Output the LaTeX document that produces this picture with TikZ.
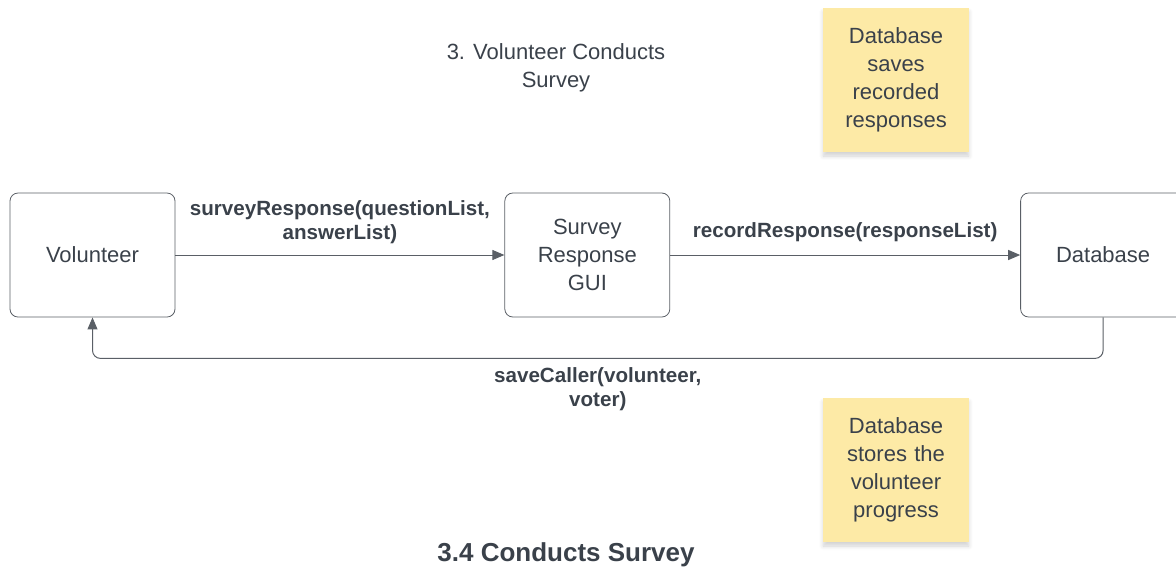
\documentclass[tikz,border=0pt]{standalone}
\usepackage{fontspec}
\setmainfont{Liberation Sans}
\definecolor{InkGray}{HTML}{3A414A}
\definecolor{LineGray}{HTML}{5A5F66}
\definecolor{StickyYellow}{HTML}{FDEAA6}
\usetikzlibrary{arrows.meta, positioning, shadows.blur}

\begin{document}
\begin{tikzpicture}[
    x=0.5pt, y=-0.5pt,
    every node/.style={text=InkGray, font=\fontsize{11}{14}\selectfont},
    box/.style={draw=LineGray, rounded corners=4pt, align=center,
                minimum width=82.5pt, minimum height=62pt, inner sep=2pt},
    sticky/.style={fill=StickyYellow, align=center, minimum width=72pt,
                   minimum height=72pt, text width=66pt,
                   blur shadow={shadow blur steps=6, shadow xshift=0pt,
                                shadow yshift=-2pt, shadow opacity=18}},
    msg/.style={font=\bfseries\fontsize{10.3}{12}\selectfont, align=center},
    arrow/.style={-{Triangle[length=6pt, width=5pt]}, draw=LineGray, line width=0.5pt}]

\useasboundingbox (0,0) rectangle (1176,569);

\node (title) at (556,68) [align=center] {3. Volunteer Conducts\\Survey};

\node[box] (vol) at (92.5,255) {Volunteer};
\node[box, right=164.5pt of vol] (gui) {Survey\\Response\\GUI};
\node[box, right=175pt of gui] (db) {Database};

\node[sticky] (noteSave) at (896,80) {Database\\saves\\recorded\\responses};
\node[sticky] (noteStore) at (896,470) {Database\\stores the\\volunteer\\progress};

\draw[arrow] (vol) -- (gui)
    node[msg, midway, above=2pt] {surveyResponse(questionList,\\answerList)};
\draw[arrow] (gui) -- (db)
    node[msg, midway, above=3pt] {recordResponse(responseList)};
\draw[arrow, rounded corners=4pt] (db.south) -- ++(0,41) -| (vol.south)
    node[msg, pos=0.25, below=1pt] {saveCaller(volunteer,\\voter)};

\node (caption) at (566,555) [font=\bfseries\fontsize{13}{15}\selectfont] {3.4 Conducts Survey};
\end{tikzpicture}
\end{document}
